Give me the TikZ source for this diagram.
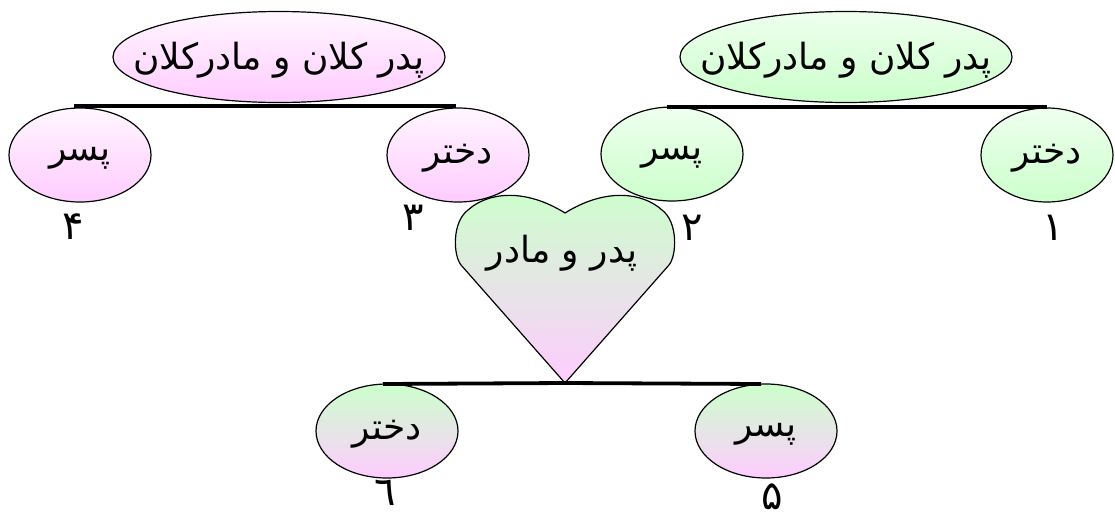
\documentclass[tikz,border=0pt]{standalone}
\usepackage{fontspec}
\usetikzlibrary{shapes.geometric}
\newfontfamily\arabicfont[Script=Arabic]{DejaVu Sans}
\TeXXeTstate=1
\definecolor{pinkc}{HTML}{FFCCFF}
\definecolor{pinkl}{HTML}{FFF6FF}
\definecolor{greenc}{HTML}{CCFFCC}
\definecolor{greenl}{HTML}{EEFFEE}
\tikzset{
  ell/.style={ellipse, draw=black, line width=1.2pt, inner sep=0pt},
  bigell/.style={ell, minimum width=332pt, minimum height=91pt},
  kidell/.style={ell, minimum width=142pt, minimum height=94pt},
  pinkfill/.style={top color=pinkl, bottom color=pinkc},
  greenfill/.style={top color=greenl, bottom color=greenc},
  mixfill/.style={top color=greenc, bottom color=pinkc},
  txt/.style={font=\arabicfont\fontsize{36}{40}\selectfont, inner sep=0pt, yshift=-3pt},
  num/.style={font=\arabicfont\fontsize{40}{44}\selectfont, inner sep=0pt, anchor=base},
  bar/.style={line width=3.8pt},
}
\begin{document}
\begin{tikzpicture}[x=1pt,y=-1pt]
\useasboundingbox (0,0) rectangle (1115,517);
% top-left family (pink)
\node[bigell, pinkfill] (gpL) at (279,57) {};
\node[txt] (gpLt) at (gpL.center) {\beginR پدر کلان و مادرکلان\endR};
\node[kidell, pinkfill] (sonL) at (80,155) {};
\node[txt] (sonLt) at (sonL.center) {\beginR پسر\endR};
\node[kidell, pinkfill] (dauL) at (458,155) {};
\node[txt] (dauLt) at (dauL.center) {\beginR دختر\endR};
\coordinate (barLa) at (74,106);
\coordinate (barLb) at (456,106);
\draw[bar] (barLa) -- (barLb);
\node[num] (n4) at (73,239) {۴};
\node[num] (n3) at (413,230) {۳};
% top-right family (green)
\node[bigell, greenfill] (gpR) at (846,57) {};
\node[txt] (gpRt) at (gpR.center) {\beginR پدر کلان و مادرکلان\endR};
\node[kidell, greenfill] (sonR) at (672,154) {};
\node[txt] (sonRt) at (sonR.center) {\beginR پسر\endR};
\node[kidell, greenfill, minimum width=132pt] (dauR) at (1047,155) {};
\node[txt] (dauRt) at (dauR.center) {\beginR دختر\endR};
\coordinate (barRa) at (667,107);
\coordinate (barRb) at (1047,107);
\draw[bar] (barRa) -- (barRb);
\node[num] (n2) at (692,240) {۲};
\node[num] (n1) at (1053,240) {۱};
% heart
\coordinate (tip) at (565,383);
\path[draw=black, line width=1.2pt, mixfill]
  (tip) -- (461,265)
  .. controls (453,255) and (452,222) .. (468,210)
  .. controls (488,192) and (525,188) .. (565,213)
  .. controls (605,188) and (642,192) .. (662,210)
  .. controls (678,222) and (677,255) .. (669,265)
  -- cycle;
\node[txt] (heartt) at (562,250) {\beginR پدر و مادر\endR};
% bottom family
\node[kidell, mixfill] (dauB) at (387,431) {};
\node[txt] (dauBt) at (dauB.center) {\beginR دختر\endR};
\node[kidell, mixfill] (sonB) at (766,431) {};
\node[txt] (sonBt) at (sonB.center) {\beginR پسر\endR};
\coordinate (barBa) at (383,384);
\coordinate (barBb) at (761,384);
\draw[bar] (barBa) -- (tip) -- (barBb);
\node[num] (n6) at (385,505) {٦};
\node[num] (n5) at (772,509) {۵};
\end{tikzpicture}
\end{document}
